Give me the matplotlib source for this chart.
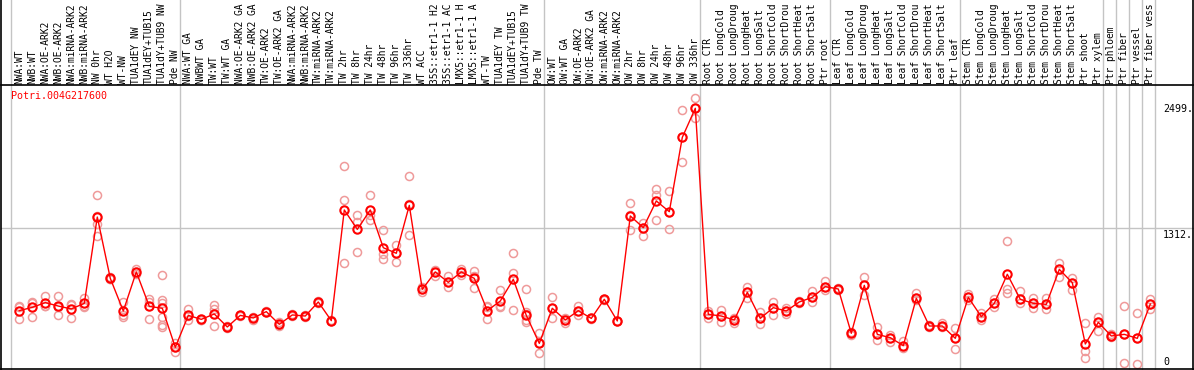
import matplotlib
matplotlib.use("Agg")
import matplotlib.pyplot as plt
from matplotlib.lines import Line2D

gene_name = "Potri.004G217600"

# column labels as displayed (truncated to 14 characters, as in the reference)
labels = [
    "NWA:WT", "NWB:WT", "NWA:OE-ARK2", "NWB:OE-ARK2", "NWA:miRNA-ARK2", "NWB:miRNA-ARK2",
    "NW 0hr", "WT H2O", "WT-NW", "TUA1dEY NW", "TUA1dEY+TUB15", "TUA1dY+TUB9 NW", "Pde NW",
    "NWA:WT GA", "NWBWT GA", "TW:WT", "TW:WT GA", "NWA:OE-ARK2 GA", "NWB:OE-ARK2 GA",
    "TW:OE-ARK2", "TW:OE-ARK2 GA", "NWA:miRNA-ARK2", "NWB:miRNA-ARK2", "TW:miRNA-ARK2",
    "TW:miRNA-ARK2", "TW 2hr", "TW 8hr", "TW 24hr", "TW 48hr", "TW 96hr", "TW 336hr", "WT ACC",
    "35S::etr1-1 H2", "35S::etr1-1 AC", "LMX5::etr1-1 H", "LMX5::etr1-1 A", "WT-TW",
    "TUA1dEY TW", "TUA1dEY+TUB15", "TUA1dY+TUB9 TW", "Pde TW",
    "OW:WT", "OW:WT GA", "OW:OE-ARK2", "OW:OE-ARK2 GA", "OW:miRNA-ARK2", "OW:miRNA-ARK2",
    "OW 2hr", "OW 8hr", "OW 24hr", "OW 48hr", "OW 96hr", "OW 336hr",
    "Root CTR", "Root LongCold", "Root LongDroug", "Root LongHeat", "Root LongSalt",
    "Root ShortCold", "Root ShortDrou", "Root ShortHeat", "Root ShortSalt", "Ptr root",
    "Leaf CTR", "Leaf LongCold", "Leaf LongDroug", "Leaf LongHeat", "Leaf LongSalt",
    "Leaf ShortCold", "Leaf ShortDrou", "Leaf ShortHeat", "Leaf ShortSalt", "Ptr leaf",
    "Stem CTR", "Stem LongCold", "Stem LongDroug", "Stem LongHeat", "Stem LongSalt",
    "Stem ShortCold", "Stem ShortDrou", "Stem ShortHeat", "Stem ShortSalt", "Ptr shoot",
    "Ptr xylem", "Ptr phloem", "Ptr fiber", "Ptr vessel", "Ptr fiber vess",
]

means = [
    544, 575, 619, 587, 560, 612, 1417, 845, 541, 905, 584, 566, 202,
    500, 463, 513, 392, 500, 476, 535, 417, 504, 494, 625, 451, 1483, 1302, 1483,
    1131, 1079, 1526, 743, 905, 808, 905, 845, 544, 634, 836, 500, 239,
    566, 457, 544, 472, 650, 448, 1427, 1318, 1567, 1467, 2160, 2431,
    510, 494, 457, 715, 472, 572, 541, 625, 668, 768,
    746, 333, 780, 323, 292, 218, 659, 401, 401, 286,
    668, 488, 612, 883, 650, 612, 603, 929, 805, 233, 435,
    308, 323, 286, 606,
]

replicates = [
    [587, 582, 463], [628, 612, 482], [684, 587, 590], [681, 581, 500], [609, 600, 472],
    [665, 590, 581], [1620, 1430, 1350, 1243], [860, 840, 835], [625, 504, 482],
    [929, 900, 886], [653, 628, 463], [877, 643, 612, 488, 410, 395], [239, 205, 162],
    [556, 490, 457], [470, 460, 460], [597, 556, 401], [400, 390, 386], [505, 500, 495],
    [488, 480, 457], [540, 535, 530], [441, 410, 400], [510, 504, 498], [500, 494, 488],
    [630, 625, 620], [455, 451, 447], [1893, 1576, 992], [1433, 1374, 1088],
    [1623, 1437, 1389], [1296, 1072, 1026], [1156, 1080, 1001], [1797, 1535, 1247],
    [762, 745, 721], [923, 905, 867], [867, 808, 768], [929, 905, 877], [914, 869, 752],
    [587, 581, 463], [734, 587, 581], [1082, 895, 550], [743, 535, 513, 457, 435],
    [333, 239, 146],
    [668, 566, 472], [479, 457, 426], [587, 544, 500], [480, 472, 465], [655, 650, 645],
    [452, 448, 444], [1545, 1440, 1296], [1358, 1318, 1243], [1679, 1623, 1389],
    [1660, 1467, 1302], [2412, 2160, 1927], [2527, 2431, 2338],
    [541, 510, 479], [550, 494, 441], [479, 457, 432], [768, 715, 659], [535, 472, 417],
    [622, 572, 504], [566, 541, 510], [637, 625, 615], [727, 668, 622], [821, 768, 737],
    [758, 746, 740], [348, 333, 317], [861, 780, 690], [389, 323, 270], [317, 292, 255],
    [264, 218, 193], [706, 659, 643], [410, 401, 389], [426, 401, 395], [379, 286, 183],
    [699, 668, 643], [525, 488, 457], [650, 612, 575], [1191, 743, 712], [727, 650, 612],
    [659, 612, 566], [659, 603, 560], [992, 929, 855], [845, 805, 737], [426, 171, 99],
    [488, 435, 358],
    [323, 308, 300], [587, 323, 53], [519, 286, 44], [650, 606, 556],
]

group_starts = [0, 13, 41, 53, 63, 73, 84, 85, 86, 87, 88]
ytick_values = [0, 1312, 2499]
ytick_labels = ["0", "1312.", "2499."]

W, H = 1194, 370
fig = plt.figure(figsize=(W / 100, H / 100), dpi=100)
fig.patch.set_facecolor("white")

# axes pixel box: x 0.5..1193.5, y 85..369 (from top)
ax_left, ax_right = 0.5, 1193.5
ax_top, ax_bottom = 85.0, 369.0
ax = fig.add_axes([ax_left / W, (H - ax_bottom) / H,
                   (ax_right - ax_left) / W, (ax_bottom - ax_top) / H])

x0_px, dx_px = 19.3, 13.0
ax.set_xlim((ax_left - x0_px) / dx_px, (ax_right - x0_px) / dx_px)
ppu = 140.7 / 1312.0
ax.set_ylim(0, (ax_bottom - ax_top) / ppu)
ax.set_xticks([])
ax.set_yticks([])
for s in ax.spines.values():
    s.set_color("black")
    s.set_linewidth(1.2)
ax.spines["left"].set_visible(False)
ax.spines["right"].set_visible(False)

grid_c = "#c4c4c4"
top_frac = ax_bottom / (ax_bottom - ax_top)
trans = ax.get_xaxis_transform()
for g in group_starts:
    xs = g - 0.64
    ax.add_line(Line2D([xs, xs], [0, top_frac], transform=trans, color=grid_c,
                       lw=1.0, clip_on=False, zorder=0.5))
ax.axhline(ytick_values[1], color=grid_c, lw=1.0, zorder=0.5)

# outer vertical black borders spanning full height
fig.add_artist(Line2D([0.6 / W, 0.6 / W], [0, 1], transform=fig.transFigure, color="black", lw=1.2))
fig.add_artist(Line2D([1193.4 / W, 1193.4 / W], [0, 1], transform=fig.transFigure, color="black", lw=1.2))

mono = "DejaVu Sans Mono"
for i, lab in enumerate(labels):
    ax.text(i, 1.005, lab, transform=trans, rotation=90, ha="center", va="bottom",
            fontsize=6.9, family=mono, color="black", clip_on=False)

rep_x = []
rep_y = []
for i, reps in enumerate(replicates):
    for v in reps:
        rep_x.append(i)
        rep_y.append(v)
ax.plot(rep_x, rep_y, linestyle="none", marker="o", markersize=5.8,
        markerfacecolor="none", markeredgecolor="#ef9a9a", markeredgewidth=1.1, zorder=2)

xs = list(range(len(means)))
ax.plot(xs, means, color="red", lw=1.0, zorder=3)
ax.plot(xs, means, linestyle="none", marker="o", markersize=6.0,
        markerfacecolor="none", markeredgecolor="red", markeredgewidth=1.5, zorder=4)

ax.text(-0.66 + 0.05, 1 - 11 / (ax_bottom - ax_top), gene_name, transform=trans,
        fontsize=7.2, family=mono, color="red", ha="left", va="center")

lab_x = (1163 - x0_px) / dx_px
ax.text(lab_x, ytick_values[2] - 25, ytick_labels[2], fontsize=7.2, family=mono, ha="left", va="top")
ax.text(lab_x, ytick_values[1] - 15, ytick_labels[1], fontsize=7.2, family=mono, ha="left", va="top")
ax.text(lab_x, ytick_values[0] + 65, ytick_labels[0], fontsize=7.2, family=mono, ha="left", va="center")

fig.savefig("out.png", dpi=100, facecolor="white")
